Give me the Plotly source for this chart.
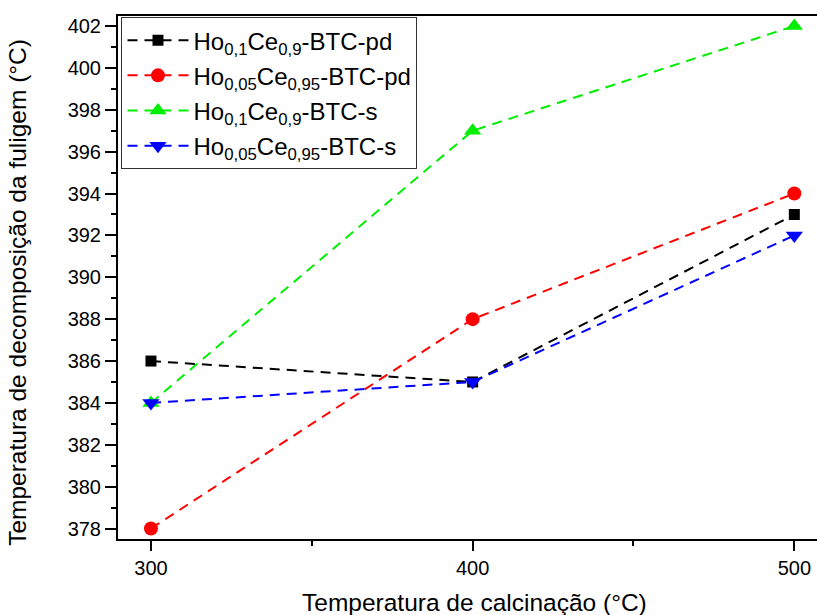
import plotly.graph_objects as go

# Calcination temperatures (°C)
calcinacao = [300, 400, 500]

# Soot decomposition temperature (°C) for each catalyst
ho01_pd = [386, 385, 393]
ho005_pd = [378, 388, 394]
ho01_s = [384, 397, 402]
ho005_s = [384, 385, 392]

nomes = [
    "Ho<sub>0,1</sub>Ce<sub>0,9</sub>-BTC-pd",
    "Ho<sub>0,05</sub>Ce<sub>0,95</sub>-BTC-pd",
    "Ho<sub>0,1</sub>Ce<sub>0,9</sub>-BTC-s",
    "Ho<sub>0,05</sub>Ce<sub>0,95</sub>-BTC-s",
]
series = [ho01_pd, ho005_pd, ho01_s, ho005_s]
cores = ["#000000", "#ff0000", "#00ee00", "#0000ff"]
simbolos = ["square", "circle", "triangle-up", "triangle-down"]
tamanhos = [11, 14, 15, 15]

titulo_x = "Temperatura de calcinação (°C)"
titulo_y = "Temperatura de decomposição da fuligem (°C)"

FONTE = "Liberation Sans, Arial, sans-serif"

fig = go.Figure()
for i, (nome, y, cor, simb, tam) in enumerate(zip(nomes, series, cores, simbolos, tamanhos)):
    fig.add_trace(go.Scatter(
        x=calcinacao, y=y, name=nome, mode="lines+markers",
        legendgroup=f"g{i}",
        line=dict(color=cor, width=2, dash="10px,7px"),
        marker=dict(symbol=simb, size=tam, color=cor, line=dict(width=0)),
        cliponaxis=False,
    ))

fig.update_layout(
    width=817, height=615,
    margin=dict(l=118, r=0, t=16, b=76),
    paper_bgcolor="white", plot_bgcolor="white",
    font=dict(family=FONTE, color="black"),
    showlegend=True,
    legend=dict(
        x=0.005, y=0.998, xanchor="left", yanchor="top",
        bgcolor="white", bordercolor="#333333", borderwidth=1,
        font=dict(size=24, family=FONTE, color="black"),
        itemwidth=61, tracegroupgap=1,
    ),
)

# Axis titles placed as paper annotations
fig.add_annotation(
    text=titulo_x, xref="paper", yref="paper", x=0.5095, y=-0.1217,
    xanchor="center", yanchor="middle", showarrow=False,
    font=dict(size=24.5, family=FONTE, color="black"),
)
fig.add_annotation(
    text=titulo_y, xref="paper", yref="paper", x=-0.143, y=0.4707,
    xanchor="center", yanchor="middle", textangle=-90, showarrow=False,
    font=dict(size=24.5, family=FONTE, color="black"),
)

fig.update_xaxes(
    range=[289.75, 507.05],
    tickvals=[300, 400, 500],
    ticks="outside", ticklen=10, tickwidth=1.5, tickcolor="black",
    minor=dict(tickvals=[350, 450], ticks="outside", ticklen=5, tickwidth=1.5, tickcolor="black"),
    showline=True, linecolor="black", linewidth=2, mirror=True,
    showgrid=False, zeroline=False,
    tickfont=dict(size=20, family=FONTE),
)

fig.update_yaxes(
    range=[377.5, 402.48],
    tickvals=list(range(378, 403, 2)),
    ticks="outside", ticklen=11, tickwidth=1.5, tickcolor="black",
    minor=dict(tickvals=list(range(379, 403, 2)), ticks="outside", ticklen=5, tickwidth=1.5, tickcolor="black"),
    showline=True, linecolor="black", linewidth=2, mirror=False,
    showgrid=False, zeroline=False,
    tickfont=dict(size=20, family=FONTE),
)

fig.write_html("out.html")
